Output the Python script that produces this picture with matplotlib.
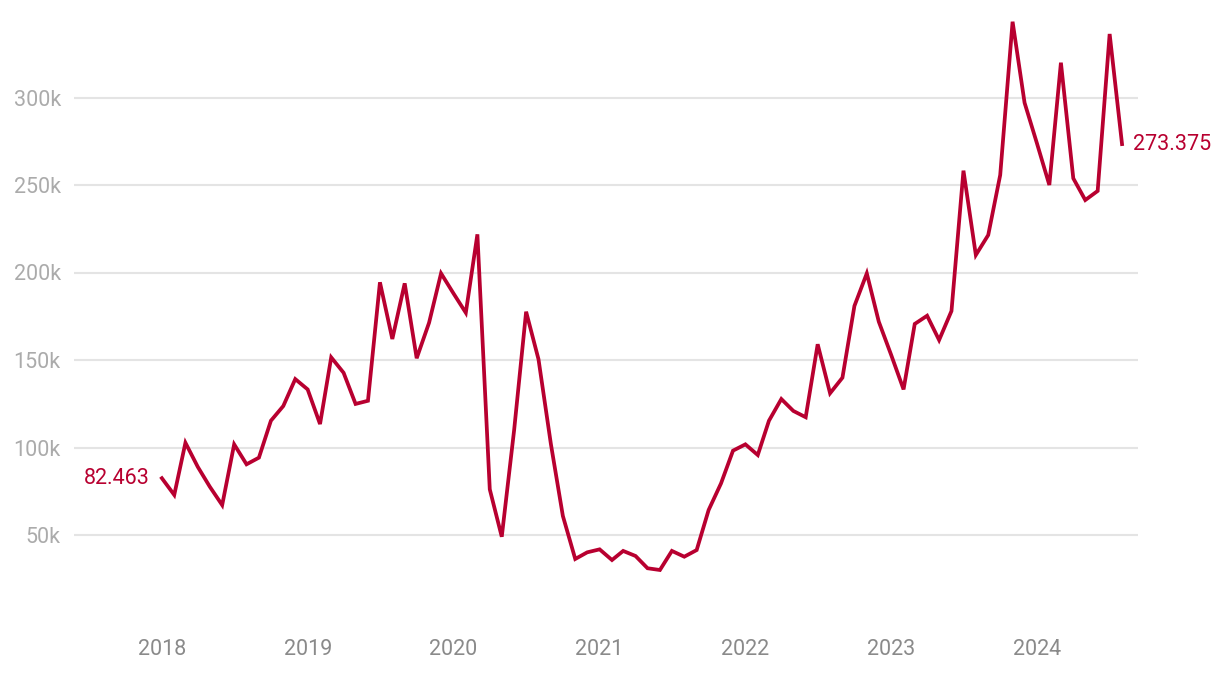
import pandas as pd
import matplotlib.pyplot as plt
import matplotlib.dates as mdates
from matplotlib.ticker import FuncFormatter

# monthly values, Jan 2018 .. Aug 2024
values = [
    82463, 72900, 102700, 88900, 77600, 67100, 101800, 90400, 94200, 115300, 123700, 139100,
    133200, 113400, 151500, 142700, 124900, 126700, 194400, 162000, 193800, 151000, 171300, 199500,
    188100, 177000, 221800, 76100, 49000, 110000, 177600, 150400, 102000, 60900, 36300, 40100,
    41800, 35700, 40900, 38000, 31000, 30000, 40900, 37600, 41400, 64300, 79500, 98200,
    101800, 95700, 115300, 127700, 120900, 117300, 159000, 131000, 139900, 180900, 199500, 171900,
    152900, 133200, 170600, 175300, 161400, 178000, 258200, 210000, 221400, 255700, 343300, 297000,
    273800, 250000, 319900, 253800, 241400, 246600, 336300, 273375,
]
dates = pd.date_range("2018-01-01", periods=len(values), freq="MS")
first_label = "82.463"
last_label = "273.375"
y_ticks = [50000, 100000, 150000, 200000, 250000, 300000]
years = list(range(2018, 2025))

red = "#b80030"
plt.rcParams["font.family"] = ["Roboto", "DejaVu Sans"]

fig = plt.figure(figsize=(12.2, 6.76), dpi=100)
ax = fig.add_axes([74 / 1220, 53.5 / 676, 1064 / 1220, 612.5 / 676])

ax.plot(dates, values, color=red, linewidth=2.7, solid_joinstyle="miter")

ax.set_ylim(0, 350000)
ax.set_xlim(pd.Timestamp("2017-05-26"), pd.Timestamp("2024-09-10"))

ax.set_yticks(y_ticks)
ax.yaxis.set_major_formatter(FuncFormatter(lambda v, p: f"{int(v / 1000)}k"))
ax.set_xticks([pd.Timestamp(f"{y}-01-01") for y in years])
ax.xaxis.set_major_formatter(mdates.DateFormatter("%Y"))

ax.grid(axis="y", color="#e4e4e4", linewidth=1.5)
ax.set_axisbelow(True)
for s in ax.spines.values():
    s.set_visible(False)
ax.tick_params(axis="y", length=0, pad=9.5, labelsize=15.5, labelcolor="#ababab")
ax.tick_params(axis="x", length=0, pad=12, labelsize=15.5, labelcolor="#8a8a8a")

# end labels
ax.annotate(first_label, (dates[0], values[0]), xytext=(-9, 0), textcoords="offset points",
            ha="right", va="center", color=red, fontsize=15.5)
ax.annotate(last_label, (dates[-1], values[-1]), xytext=(8, 0), textcoords="offset points",
            ha="left", va="center", color=red, fontsize=15.5)

plt.savefig("out.png", dpi=100)
